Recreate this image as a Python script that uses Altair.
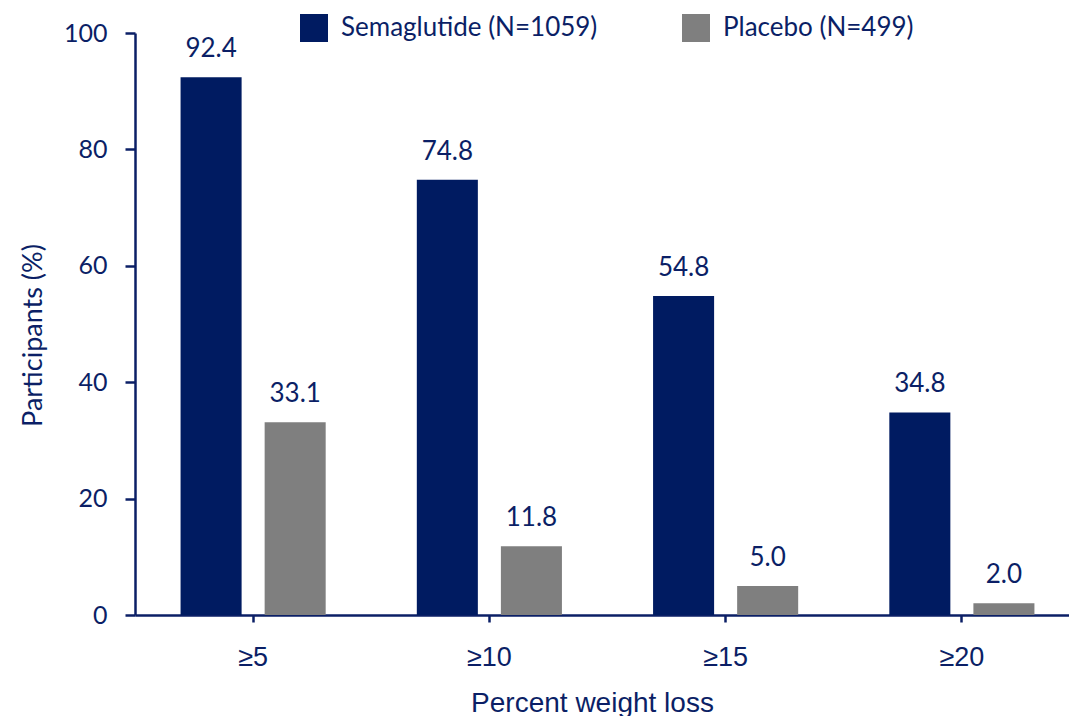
import altair as alt
import pandas as pd

# Share of participants reaching each weight-loss threshold
categories = ["≥5", "≥10", "≥15", "≥20"]
semaglutide = [92.4, 74.8, 54.8, 34.8]
placebo = [33.1, 11.8, 5.0, 2.0]
series = ["Semaglutide (N=1059)", "Placebo (N=499)"]
bar_colors = ["#001B61", "#7F7F7F"]
y_ticks = [0, 20, 40, 60, 80, 100]

NAVY = "#0B1F66"

rows = []
for cat, s, p in zip(categories, semaglutide, placebo):
    rows.append({"group": cat, "series": series[0], "value": s})
    rows.append({"group": cat, "series": series[1], "value": p})
df = pd.DataFrame(rows)

x_enc = alt.X(
    "group:N",
    sort=categories,
    scale=alt.Scale(range=[0, 945], paddingInner=0, paddingOuter=0),
    axis=alt.Axis(
        title="Percent weight loss",
        labelAngle=0,
        domainColor=NAVY,
        domainWidth=2.5,
        tickColor=NAVY,
        tickWidth=2.5,
        tickSize=7,
        labelBaseline="alphabetic",
        labelPadding=43,
        labelFont="Liberation Sans",
        labelFontSize=27,
        labelColor=NAVY,
        titleFont="Liberation Sans",
        titleFontSize=28,
        titleFontWeight="normal",
        titleColor=NAVY,
        titleX=457,
        titleY=96,
        titleAlign="center",
        titleBaseline="alphabetic",
    ),
)

xoff_enc = alt.XOffset(
    "series:N",
    sort=series,
    scale=alt.Scale(paddingInner=0.274, paddingOuter=0.542),
)

y_enc = alt.Y(
    "value:Q",
    scale=alt.Scale(domain=[0, 100]),
    axis=alt.Axis(
        values=y_ticks,
        title="Participants (%)",
        grid=False,
        domainColor=NAVY,
        domainWidth=2.5,
        tickColor=NAVY,
        tickWidth=2.5,
        tickSize=10,
        labelPadding=18,
        labelFont="Lato",
        labelFontSize=25,
        labelColor=NAVY,
        titleFont="Lato",
        titleFontSize=27,
        titleFontWeight="normal",
        titleColor=NAVY,
        titleX=-102,
        titleY=302,
        titleAlign="center",
        titleBaseline="middle",
    ),
)

bars = alt.Chart(df).mark_bar(strokeWidth=0).encode(
    x=x_enc,
    xOffset=xoff_enc,
    y=y_enc,
    color=alt.Color(
        "series:N",
        sort=series,
        scale=alt.Scale(domain=series, range=bar_colors),
        legend=alt.Legend(
            orient="none",
            legendX=165,
            legendY=-19,
            direction="horizontal",
            title=None,
            symbolType="square",
            symbolSize=784,
            symbolStrokeWidth=0,
            symbolOpacity=1,
            labelFont="Lato",
            labelFontSize=26,
            labelColor=NAVY,
            labelOffset=13,
            labelLimit=0,
            columnPadding=84,
            padding=0,
        ),
    ),
)

labels = alt.Chart(df).mark_text(
    dy=-20,
    baseline="alphabetic",
    align="center",
    font="Lato",
    fontSize=26,
    color=NAVY,
).encode(
    x=alt.X("group:N", sort=categories),
    xOffset=alt.XOffset("series:N", sort=series),
    y=alt.Y("value:Q"),
    text=alt.Text("value:Q", format=".1f"),
)

chart = (
    alt.layer(bars, labels)
    .properties(
        width=934,
        height=582,
        autosize="none",
        padding={"left": 135, "top": 33, "right": 0, "bottom": 101},
        background="white",
    )
    .configure_view(stroke=None)
)

chart.save("out.html", embed_options={"renderer": "svg", "actions": False})
